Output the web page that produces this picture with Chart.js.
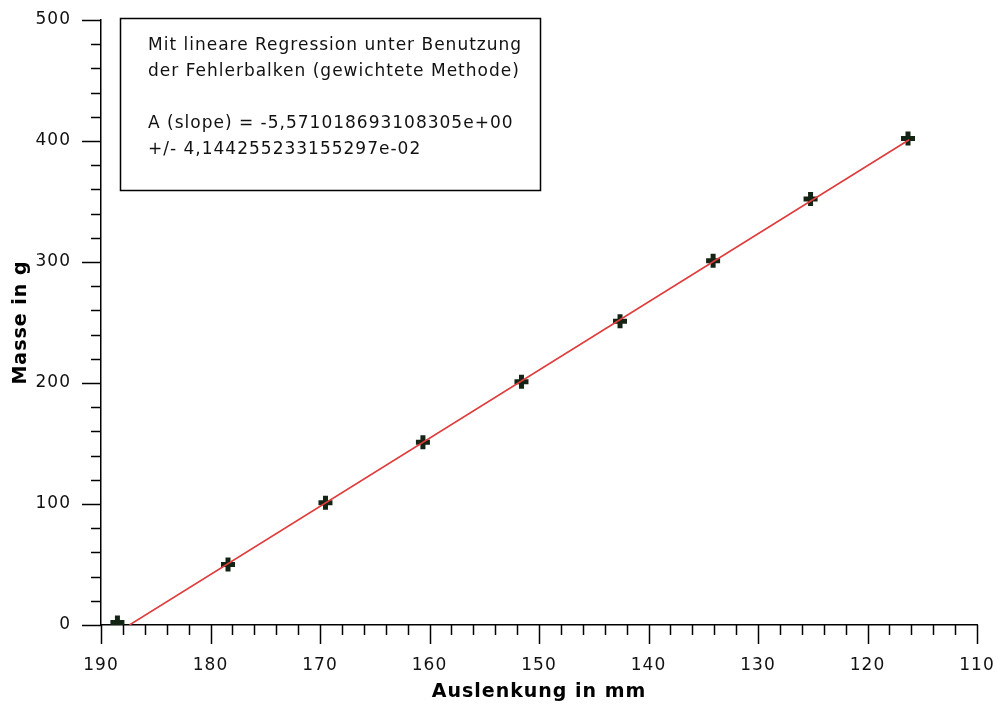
<!DOCTYPE html>
<html>
<head>
<meta charset="utf-8">
<script src="https://cdn.jsdelivr.net/npm/chart.js@4.4.1/dist/chart.umd.min.js"></script>
<style>
  html, body { margin:0; padding:0; background:#fff; }
  #wrap { width:997px; height:707px; }
</style>
</head>
<body>
<div id="wrap"><canvas id="c" width="997" height="707"></canvas></div>
<script>
// measured points (Auslenkung in mm / Masse in g)
const auslenkung = [188.5, 178.4, 169.5, 160.6, 151.6, 142.6, 134.1, 125.2, 116.3];
const masse      = [2, 50, 101, 151, 201, 251, 301, 352, 402];

// weighted regression line
const fitX = [187.4, 116.2];
const fitY = [0, 401];

const noteLines = [
  'Mit lineare Regression unter Benutzung',
  'der Fehlerbalken (gewichtete Methode)',
  '',
  'A (slope) = -5,571018693108305e+00',
  '+/- 4,144255233155297e-02'
];

const FONT = '"DejaVu Sans", Verdana, sans-serif';

// axis ticks: long ones at labelled values, short ones in between
const tickPlugin = {
  id: 'ticks',
  beforeDraw(chart){
    chart.ctx.letterSpacing = '1px';
  },
  afterDraw(chart){
    const ctx = chart.ctx, xs = chart.scales.x, ys = chart.scales.y;
    const a = chart.chartArea;
    ctx.save();
    ctx.strokeStyle = '#000';
    ctx.lineWidth = 1.5;
    for (let v = 110; v <= 190; v += 2){
      const px = Math.round(xs.getPixelForValue(v)) + 0.5;
      const len = v % 10 === 0 ? 19 : 10;
      ctx.beginPath(); ctx.moveTo(px, a.bottom); ctx.lineTo(px, a.bottom + len); ctx.stroke();
    }
    for (let v = 0; v <= 500; v += 20){
      const py = Math.round(ys.getPixelForValue(v)) + 0.5;
      const len = v % 100 === 0 ? 19 : 10;
      ctx.beginPath(); ctx.moveTo(a.left, py); ctx.lineTo(a.left - len, py); ctx.stroke();
    }
    // annotation box
    ctx.lineWidth = 1.5;
    ctx.strokeRect(120.5, 18.5, 420, 172);
    ctx.fillStyle = '#111';
    ctx.font = '17px ' + FONT;
    ctx.letterSpacing = '1px';
    ctx.textBaseline = 'middle';
    noteLines.forEach((t, i) => ctx.fillText(t, 148, 46 + i * 26));
    ctx.restore();
  }
};

new Chart(document.getElementById('c'), {
  type: 'scatter',
  data: {
    datasets: [
      {
        label: 'Messwerte',
        data: auslenkung.map((x, i) => ({ x, y: masse[i] })),
        pointStyle: 'cross',
        pointRadius: 7,
        borderWidth: 5,
        borderColor: '#142414',
        backgroundColor: '#142414',
        order: 1
      },
      {
        label: 'Regression',
        data: fitX.map((x, i) => ({ x, y: fitY[i] })),
        showLine: true,
        pointRadius: 0,
        borderColor: '#e03c3c',
        borderWidth: 1.6,
        order: 0
      }
    ]
  },
  options: {
    responsive: false,
    animation: false,
    layout: { padding: { top: 20, right: 20, left: 0, bottom: 0 } },
    plugins: { legend: { display: false }, tooltip: { enabled: false } },
    scales: {
      x: {
        type: 'linear', reverse: true, min: 110, max: 190,
        afterFit: s => { s.height = 82; s.paddingLeft = 0; s.paddingRight = 0; },
        border: { display: true, color: '#000', width: 1.5 },
        grid: { display: false },
        ticks: {
          stepSize: 10, autoSkip: false, maxRotation: 0, padding: 22,
          color: '#111', font: { family: FONT, size: 17 }
        },
        title: {
          display: true, text: 'Auslenkung in mm', color: '#000',
          font: { family: FONT, size: 19, weight: 'bold' }, padding: { top: 0 }
        }
      },
      y: {
        type: 'linear', min: 0, max: 500,
        afterFit: s => { s.width = 101; s.paddingTop = 0; s.paddingBottom = 0; },
        border: { display: true, color: '#000', width: 1.5 },
        grid: { display: false },
        ticks: {
          stepSize: 100, padding: 22,
          color: '#111', font: { family: FONT, size: 17 }
        },
        title: {
          display: true, text: 'Masse in g', color: '#000',
          font: { family: FONT, size: 19, weight: 'bold' }, padding: { top: 10, bottom: 0 }
        }
      }
    }
  },
  plugins: [tickPlugin]
});
</script>
</body>
</html>
